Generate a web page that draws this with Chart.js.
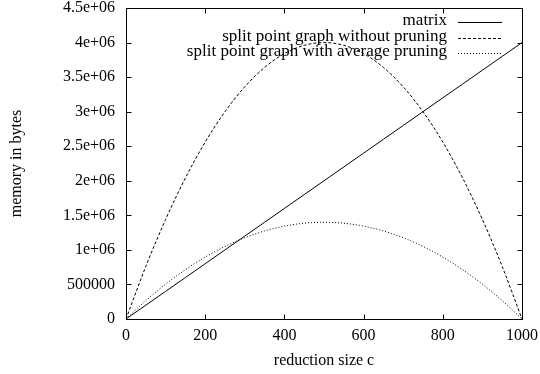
<!DOCTYPE html>
<html>
<head>
<meta charset="utf-8">
<script src="https://cdn.jsdelivr.net/npm/chart.js@4.4.0/dist/chart.umd.min.js"></script>
<style>
  html, body { margin: 0; padding: 0; background: #fff; }
  #wrap { width: 540px; height: 374px; }
</style>
</head>
<body>
<div id="wrap"><canvas id="canvas-1" width="540" height="374"></canvas></div>
<script>
// values (x every 50)
var reductionSize = [0, 50, 100, 150, 200, 250, 300, 350, 400, 450, 500, 550, 600, 650, 700, 750, 800, 850, 900, 950, 1000];
var matrixMemory = [0, 200000, 400000, 600000, 800000, 1000000, 1200000, 1400000, 1600000, 1800000, 2000000,
  2200000, 2400000, 2600000, 2800000, 3000000, 3200000, 3400000, 3600000, 3800000, 4000000];
var splitNoPruning = [0, 760000, 1440000, 2040000, 2560000, 3000000, 3360000, 3640000, 3840000, 3960000, 4000000,
  3960000, 3840000, 3640000, 3360000, 3000000, 2560000, 2040000, 1440000, 760000, 0];
var splitAvgPruning = [0, 266000, 504000, 714000, 896000, 1050000, 1176000, 1274000, 1344000, 1386000, 1400000,
  1386000, 1344000, 1274000, 1176000, 1050000, 896000, 714000, 504000, 266000, 0];
var seriesLabels = ['matrix', 'split point graph without pruning', 'split point graph with average pruning'];
var yTickLabels = ['0', '500000', '1e+06', '1.5e+06', '2e+06', '2.5e+06', '3e+06', '3.5e+06', '4e+06', '4.5e+06'];
var xTickLabels = ['0', '200', '400', '600', '800', '1000'];

var FONT = '"Liberation Serif", "Times New Roman", serif';
var dashes = [[], [3, 2], [1, 2]];

function toPoints(ys) {
  return reductionSize.map(function (x, i) { return { x: x, y: ys[i] }; });
}

// gnuplot-like frame: box, inward ticks on all sides, key at top right
var gnuplotFrame = {
  id: 'gnuplotFrame',
  afterDraw: function (chart) {
    var ctx = chart.ctx;
    var a = chart.chartArea;
    var sx = chart.scales.x, sy = chart.scales.y;
    var L = Math.round(a.left) + 0.5, R = Math.round(a.right) + 0.5;
    var T = Math.round(a.top) + 0.5, B = Math.round(a.bottom) + 0.5;
    var tl = 5;
    ctx.save();
    ctx.strokeStyle = '#000';
    ctx.lineWidth = 1;
    ctx.setLineDash([]);
    ctx.strokeRect(L, T, R - L, B - T);
    ctx.beginPath();
    sx.ticks.forEach(function (t) {
      var px = Math.round(sx.getPixelForValue(t.value)) + 0.5;
      ctx.moveTo(px, B); ctx.lineTo(px, B - tl);
      ctx.moveTo(px, T); ctx.lineTo(px, T + tl);
    });
    sy.ticks.forEach(function (t) {
      var py = Math.round(sy.getPixelForValue(t.value)) + 0.5;
      ctx.moveTo(L, py); ctx.lineTo(L + tl, py);
      ctx.moveTo(R, py); ctx.lineTo(R - tl, py);
    });
    ctx.stroke();

    // key
    ctx.font = '17px ' + FONT;
    ctx.fillStyle = '#000';
    ctx.textAlign = 'right';
    ctx.textBaseline = 'middle';
    var rows = [21, 36.5, 52];
    chart.data.datasets.forEach(function (ds, i) {
      ctx.fillText(ds.label, 447, rows[i]);
      ctx.beginPath();
      ctx.setLineDash(dashes[i]);
      ctx.moveTo(458, Math.round(rows[i] + 1) + 0.5);
      ctx.lineTo(502, Math.round(rows[i] + 1) + 0.5);
      ctx.stroke();
    });
    ctx.restore();
  }
};

var memoryChart = new Chart(document.getElementById('canvas-1'), {
  type: 'line',
  data: {
    datasets: [{
      label: seriesLabels[0],
      data: toPoints(matrixMemory),
      borderColor: '#000',
      borderWidth: 1,
      borderDash: dashes[0],
      tension: 0
    }, {
      label: seriesLabels[1],
      data: toPoints(splitNoPruning),
      borderColor: '#000',
      borderWidth: 1,
      borderDash: dashes[1],
      cubicInterpolationMode: 'monotone'
    }, {
      label: seriesLabels[2],
      data: toPoints(splitAvgPruning),
      borderColor: '#000',
      borderWidth: 1,
      borderDash: dashes[2],
      cubicInterpolationMode: 'monotone'
    }]
  },
  options: {
    responsive: false,
    animation: false,
    events: [],
    elements: { point: { radius: 0 } },
    layout: { padding: { left: 0, right: 18, top: 8, bottom: 0 } },
    plugins: {
      legend: { display: false },
      tooltip: { enabled: false }
    },
    scales: {
      x: {
        type: 'linear',
        min: 0,
        max: 1000,
        grid: { display: false, drawTicks: false },
        border: { display: false },
        afterFit: function (scale) {
          scale.height = 55;
          scale.paddingLeft = 0;
          scale.paddingRight = 0;
        },
        ticks: {
          stepSize: 200,
          padding: 7,
          maxRotation: 0,
          color: '#000',
          font: { family: FONT, size: 16 },
          callback: function (v) { return xTickLabels[Math.round(v / 200)]; }
        },
        title: {
          display: true,
          text: 'reduction size c',
          color: '#000',
          font: { family: FONT, size: 16 },
          padding: { top: 0, bottom: 4 }
        }
      },
      y: {
        min: 0,
        max: 4500000,
        grid: { display: false, drawTicks: false },
        border: { display: false },
        afterFit: function (scale) {
          scale.width = 126;
          scale.paddingTop = 0;
          scale.paddingBottom = 0;
        },
        ticks: {
          stepSize: 500000,
          padding: 11,
          color: '#000',
          font: { family: FONT, size: 16 },
          callback: function (v) { return yTickLabels[Math.round(v / 500000)]; }
        },
        title: {
          display: true,
          text: 'memory in bytes',
          color: '#000',
          font: { family: FONT, size: 16 },
          padding: { top: 7, bottom: 0 }
        }
      }
    }
  },
  plugins: [gnuplotFrame]
});
</script>
</body>
</html>
